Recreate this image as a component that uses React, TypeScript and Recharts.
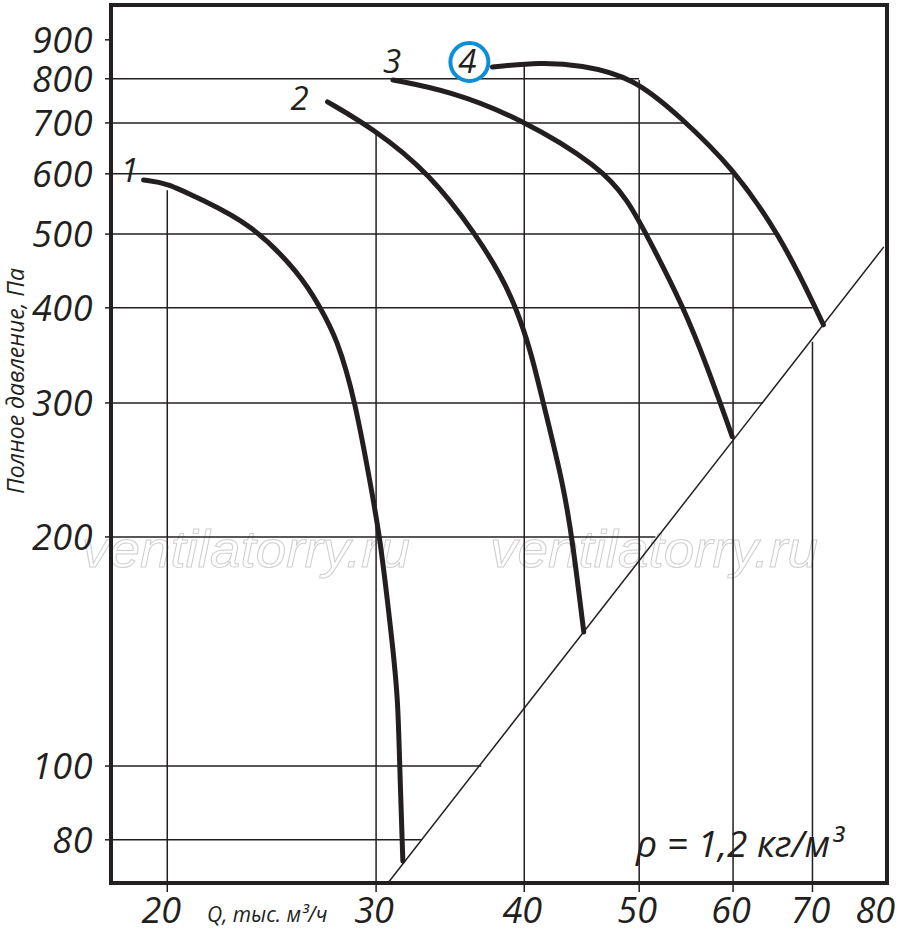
import React from "react";
import {
  LineChart,
  Line,
  XAxis,
  YAxis,
  ReferenceLine,
  ReferenceArea,
  ReferenceDot,
} from "recharts";

// axes (log-log), Q in thousand m3/h, P in Pa
const qTicks = [20, 30, 40, 50, 60, 70, 80];
const pTicks = [80, 100, 200, 300, 400, 500, 600, 700, 800, 900];
const qDomain = [17.93, 80.9];
const pDomain = [70.2, 1000];

// fan curves
const curve1Q = [19.1, 20.0, 21.3, 23.5, 25.9, 26.9, 27.8, 28.8, 29.8, 30.24, 31.0, 31.3, 31.4, 31.6];
const curve1P = [589, 584, 556, 517, 443, 401, 365, 303, 226, 199, 143, 122, 101, 75];

const curve2Q = [27.3, 29.8, 33.3, 36.5, 38.2, 39.3, 40.5, 41.5, 43.2, 44.0, 44.9];
const curve2P = [746, 689, 601, 497, 442, 403, 352, 300, 233, 194, 150];

const curve3Q = [31.0, 34.6, 39.7, 46.4, 48.9, 50.8, 54.5, 57.1, 59.9];
const curve3P = [797, 771, 710, 612, 554, 497, 401, 334, 271];

const curve4Q = [37.6, 41.3, 44.6, 49.4, 54.2, 60.0, 65.8, 70.1, 71.5];
const curve4P = [829, 841, 834, 804, 712, 611, 496, 406, 380];

// network line (limit of the working zone)
const limitQ = [30.7, 80.4];
const limitP = [70.2, 481];

// grid of the drawing: lines are cut at the curves / limit line
const hGridP = [800, 700, 600, 500, 400, 300, 200, 100, 80];
const hGridEndQ = [50, 54.9, 60, 65.4, 70, 63.6, 51.6, 36.8, 32.8];
const vGridQ = [20, 30, 40, 50, 60, 70];
const vGridTopP = [571, 681, 834, 797, 598, 361];

const curveNames = ["1", "2", "3", "4"];

const INK = "#231f20";
const FONT = "'Open Sans', sans-serif";

const toRows = (q: number[], p: number[]) => q.map((v, i) => ({ q: v, p: p[i] }));

const curves = [
  toRows(curve1Q, curve1P),
  toRows(curve2Q, curve2P),
  toRows(curve3Q, curve3P),
  toRows(curve4Q, curve4P),
];
const limit = toRows(limitQ, limitP);

function YTick({ x, y, payload }: any) {
  return (
    <g>
      <line x1={x - 6} x2={x} y1={y} y2={y} stroke={INK} strokeWidth={1.5} />
      <text
        x={x - 18}
        y={y + 13}
        textAnchor="end"
        fontSize={36}
        letterSpacing={0.5}
        fontStyle="italic"
        fontFamily={FONT}
        fill={INK}
      >
        {payload.value}
      </text>
    </g>
  );
}

function XTick({ x, y, payload }: any) {
  const v = payload.value;
  const dx = v === 20 || v === 80 ? -6 : -2;
  return (
    <g>
      {v < 80 && <line x1={x} x2={x} y1={y} y2={y + 9} stroke={INK} strokeWidth={1.5} />}
      <text
        x={x + dx}
        y={y + 40}
        textAnchor="middle"
        fontSize={36}
        fontStyle="italic"
        fontFamily={FONT}
        fill={INK}
      >
        {v}
      </text>
    </g>
  );
}

// label offsets from the first point of each curve
const labelShift = [
  [-14, 2],
  [-28, 8],
  [-1, -7],
  [-25, 6],
];

function curveLabel(i: number) {
  return (props: any) => {
    const { cx, cy } = props;
    const [dx, dy] = labelShift[i];
    return (
      <g>
        {i === 3 && (
          <circle cx={cx - 23} cy={cy - 5} r={19} fill="#fff" stroke="#0a8fd8" strokeWidth={4} />
        )}
        <text
          x={cx + dx}
          y={cy + dy}
          textAnchor="middle"
          fontSize={33}
          fontStyle="italic"
          fontFamily={FONT}
          fill={INK}
        >
          {curveNames[i]}
        </text>
      </g>
    );
  };
}

export default function App() {
  return (
    <div style={{ position: "absolute", left: 0, top: 0, width: 900, height: 945, background: "#fff" }}>
      <svg width={900} height={945} style={{ position: "absolute", left: 0, top: 0 }}>
        {[246, 654].map((cx) => (
          <text
            key={cx}
            x={cx}
            y={567}
            textAnchor="middle"
            fontSize={52}
            fontStyle="italic"
            fontFamily="'Liberation Sans', Arial, sans-serif"
            fill="none"
            stroke="#cfcfcf"
            strokeWidth={1}
            textLength={328}
            lengthAdjust="spacingAndGlyphs"
          >
            ventilatorry.ru
          </text>
        ))}
      </svg>
      <div style={{ position: "absolute", left: 0, top: 0 }}>
        <LineChart width={900} height={945} margin={{ top: 5, right: 13, bottom: 0, left: 0 }}>
          <XAxis
            type="number"
            dataKey="q"
            scale="log"
            domain={qDomain}
            allowDataOverflow
            ticks={qTicks}
            interval={0}
            height={62}
            tickSize={0}
            tickMargin={0}
            tickLine={false}
            axisLine={false}
            tick={<XTick />}
          />
          <YAxis
            type="number"
            dataKey="p"
            scale="log"
            domain={pDomain}
            allowDataOverflow
            ticks={pTicks}
            interval={0}
            width={111}
            tickSize={0}
            tickMargin={0}
            tickLine={false}
            axisLine={false}
            tick={<YTick />}
          />
          {hGridP.map((p, i) => (
            <ReferenceLine
              key={"h" + p}
              segment={[
                { x: qDomain[0], y: p },
                { x: hGridEndQ[i], y: p },
              ]}
              stroke={INK}
              strokeWidth={1.5}
            />
          ))}
          {vGridQ.map((q, i) => (
            <ReferenceLine
              key={"v" + q}
              segment={[
                { x: q, y: vGridTopP[i] },
                { x: q, y: pDomain[0] },
              ]}
              stroke={INK}
              strokeWidth={1.5}
            />
          ))}
          <Line
            data={limit}
            dataKey="p"
            type="linear"
            stroke={INK}
            strokeWidth={1.5}
            dot={false}
            isAnimationActive={false}
          />
          {curves.map((rows, i) => (
            <Line
              key={i}
              data={rows}
              dataKey="p"
              type="basis"
              stroke={INK}
              strokeWidth={5}
              strokeLinecap="round"
              dot={false}
              isAnimationActive={false}
            />
          ))}
          {curves.map((rows, i) => (
            <ReferenceDot key={"l" + i} x={rows[0].q} y={rows[0].p} r={0} shape={curveLabel(i)} />
          ))}
          <ReferenceArea
            x1={qDomain[0]}
            x2={qDomain[1]}
            y1={pDomain[0]}
            y2={pDomain[1]}
            fill="none"
            fillOpacity={0}
            stroke={INK}
            strokeWidth={4}
          />
        </LineChart>
      </div>
      <svg
        width={900}
        height={945}
        style={{ position: "absolute", left: 0, top: 0, pointerEvents: "none" }}
      >
        <text
          transform="translate(24,381) rotate(-90)"
          textAnchor="middle"
          fontSize={23}
          fontStyle="italic"
          fontFamily={FONT}
          fill={INK}
        >
          Полное давление, Па
        </text>
        <text x={207} y={922} fontSize={21} fontStyle="italic" fontFamily={FONT} fill={INK}>
          Q, тыс. м³/ч
        </text>
        <text x={636} y={857} fontSize={37} fontStyle="italic" fontFamily={FONT} fill={INK}>
          ρ = 1,2 кг/м³
        </text>
      </svg>
    </div>
  );
}
